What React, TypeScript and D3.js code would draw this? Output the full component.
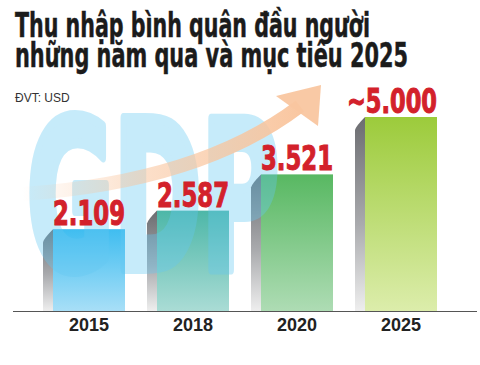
import React, { useEffect } from 'react';
import * as d3 from 'd3';

const years = ['2015', '2018', '2020', '2025'];
const incomes = [2109, 2587, 3521, 5000];
const valueLabels = ['2.109', '2.587', '3.521', '~5.000'];
const titleLines = ['Thu nhập bình quân đầu người', 'những năm qua và mục tiêu 2025'];
const unitLabel = 'ĐVT: USD';
const barTop = ['#3fbdf0', '#4db7a8', '#58b862', '#9ccb3b'];
const barBottom = ['#a8dff7', '#aadcd5', '#aedcb4', '#dcedab'];

const W = 480;
const H = 365;

const condensed = '"Liberation Sans Narrow", "DejaVu Sans Condensed", "Roboto", sans-serif';

export default function App() {
  useEffect(() => {
    document.body.style.margin = '0';
  }, []);

  const x = d3.scaleBand<string>().domain(years).range([27, 463]).paddingInner(0.3077).paddingOuter(0.25);
  const y = d3.scaleLinear().domain([0, 5000]).range([311, 117]);
  const bw = x.bandwidth();
  const base = y(0);

  // swoosh arrow path
  const shaft = d3.path();
  shaft.moveTo(22, 194);
  shaft.quadraticCurveTo(200, 182, 300, 106);

  return (
    <svg width={W} height={H} style={{ display: 'block', background: '#fff' }}>
      <defs>
        {years.map((yr, i) => (
          <linearGradient key={yr} id={'front' + i} x1="0" y1="0" x2="0" y2="1">
            <stop offset="0" stopColor={barTop[i]} />
            <stop offset="1" stopColor={barBottom[i]} />
          </linearGradient>
        ))}
        <linearGradient id="side" x1="0" y1="0" x2="0" y2="1">
          <stop offset="0" stopColor="#6b6c70" />
          <stop offset="0.55" stopColor="#a9aaad" />
          <stop offset="1" stopColor="#eeeeee" />
        </linearGradient>
        <linearGradient id="shaftGrad" gradientUnits="userSpaceOnUse" x1="22" y1="0" x2="300" y2="0">
          <stop offset="0" stopColor="#f9c49c" stopOpacity="0" />
          <stop offset="0.45" stopColor="#f9c49c" stopOpacity="0.55" />
          <stop offset="1" stopColor="#f9c49c" stopOpacity="0.95" />
        </linearGradient>
      </defs>

      {/* title */}
      {titleLines.map((t, i) => (
        <text
          key={i}
          x={15}
          y={37 + i * 30}
          fontFamily={condensed}
          fontWeight="bold"
          fontSize={34}
          fill="#1b1b1b"
          stroke="#1b1b1b"
          strokeWidth={0.5}
          textLength={i === 0 ? 355 : 393}
          lengthAdjust="spacingAndGlyphs"
        >
          {t}
        </text>
      ))}
      <text x={15} y={102} fontFamily='"Liberation Sans", Arial, sans-serif' fontSize={12} fill="#333">
        {unitLabel}
      </text>

      {/* bars */}
      {years.map((yr, i) => {
        const x0 = x(yr)!;
        const top = y(incomes[i]);
        return (
          <g key={yr}>
            <path
              d={`M${x0 - 10},${base}L${x0 - 10},${top + 13}Q${x0 - 9},${top + 9} ${x0},${top}L${x0},${base}Z`}
              fill="url(#side)"
            />
            <rect x={x0} y={top} width={bw} height={base - top} fill={`url(#front${i})`} />
          </g>
        );
      })}

      {/* GDP watermark */}
      <g opacity={0.36}>
        <text
          x={27}
          y={269}
          fontFamily={condensed}
          fontWeight="bold"
          fontSize={206}
          fill="#64c8f2"
          stroke="#64c8f2"
          strokeWidth={10}
          strokeLinejoin="round"
          textLength={252}
          lengthAdjust="spacingAndGlyphs"
        >
          GDP
        </text>
      </g>

      {/* arrow */}
      <path d={shaft.toString()} fill="none" stroke="url(#shaftGrad)" strokeWidth={14} />
      <path d="M276,96L321,85L318,126Z" fill="#f9c6a0" fillOpacity={0.95} />

      {/* axis */}
      <line x1={13} x2={477} y1={base + 0.5} y2={base + 0.5} stroke="#555" strokeWidth={1} />
      {years.map((yr) => (
        <text
          key={yr}
          x={x(yr)! + bw / 2}
          y={331}
          textAnchor="middle"
          fontFamily='"Liberation Sans", Arial, sans-serif'
          fontWeight="bold"
          fontSize={18}
          fill="#222"
        >
          {yr}
        </text>
      ))}

      {/* value labels */}
      {years.map((yr, i) => {
        const x1 = x(yr)! + bw;
        const top = y(incomes[i]);
        return (
          <text
            key={yr}
            x={x1}
            y={top - 4}
            textAnchor="end"
            fontFamily={condensed}
            fontWeight="bold"
            fontSize={33}
            fill="#d3212b"
            stroke="#d3212b"
            strokeWidth={1}
            textLength={valueLabels[i].length === 6 ? 90 : 72}
            lengthAdjust="spacingAndGlyphs"
          >
            {valueLabels[i]}
          </text>
        );
      })}
    </svg>
  );
}
